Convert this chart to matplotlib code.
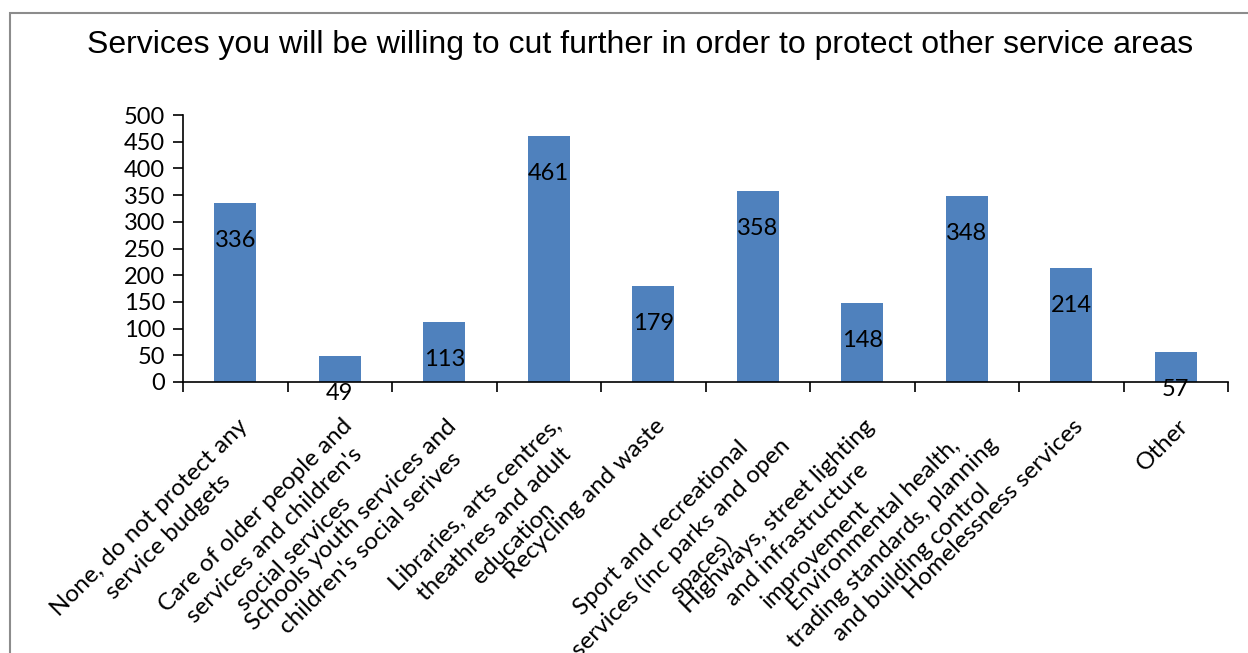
import matplotlib.pyplot as plt
from matplotlib.patches import Rectangle

# categories and response counts
categorias = [
    "None, do not protect any\nservice budgets",
    "Care of older people and\nservices and children's\nsocial services",
    "Schools youth services and\nchildren's social serives",
    "Libraries, arts centres,\ntheathres and adult\neducation",
    "Recycling and waste",
    "Sport and recreational\nservices (inc parks and open\nspaces)",
    "Highways, street lighting\nand infrastructure\nimprovement",
    "Environmental health,\ntrading standards, planning\nand building control",
    "Homelessness services",
    "Other",
]
respostas = [336, 49, 113, 461, 179, 358, 148, 348, 214, 57]
ticks_y = [0, 50, 100, 150, 200, 250, 300, 350, 400, 450, 500]

titulo = "Services you will be willing to cut further in order to protect other service areas"

fonte = ["Lato", "DejaVu Sans"]
cor_barra = "#4F81BD"

fig = plt.figure(figsize=(12.48, 6.53), dpi=100)
ax = fig.add_axes([183 / 1248, 1 - 382 / 653, (1228 - 183) / 1248, (382 - 115) / 653])

# moldura cinza do grafico
fig.patches.append(Rectangle((10 / 1248, -0.05), 1.1, (653 - 13) / 653 + 0.05,
                             transform=fig.transFigure, fill=False,
                             edgecolor="#8c8c8c", linewidth=1.5))

x = list(range(len(categorias)))
ax.bar(x, respostas, width=0.4, color=cor_barra, zorder=2)

for xi, v in zip(x, respostas):
    ax.annotate(str(v), (xi, v), xytext=(0, -27), textcoords="offset points",
                ha="center", va="center", fontsize=17, family=fonte)

ax.set_xlim(-0.5, len(categorias) - 0.5)
ax.set_ylim(0, 500)
ax.set_yticks(ticks_y)
ax.set_yticklabels([str(t) for t in ticks_y], fontsize=17, family=fonte)

# ticks do eixo x ficam entre as categorias
ax.set_xticks([i - 0.5 for i in range(len(categorias) + 1)])
ax.set_xticklabels([])
ax.tick_params(axis="x", direction="out", length=7, width=1.2)
ax.tick_params(axis="y", direction="out", length=7, width=1.2, pad=6)

# rotulos das categorias a 45 graus, como no Excel (podem se sobrepor)
for xi, rotulo in zip(x, categorias):
    ax.annotate(rotulo, (xi, 0), xytext=(1, -24), textcoords="offset points",
                rotation=45, rotation_mode="anchor", ha="right", va="top",
                multialignment="center", linespacing=1.35,
                fontsize=17.5, family=fonte, annotation_clip=False)

for lado in ["top", "right"]:
    ax.spines[lado].set_visible(False)
ax.spines["left"].set_linewidth(1.2)
ax.spines["bottom"].set_linewidth(1.2)

fig.text(640 / 1248, 1 - 45 / 653, titulo, ha="center", va="center",
         fontsize=23, family="Liberation Sans")

plt.savefig("out.png", dpi=100)
